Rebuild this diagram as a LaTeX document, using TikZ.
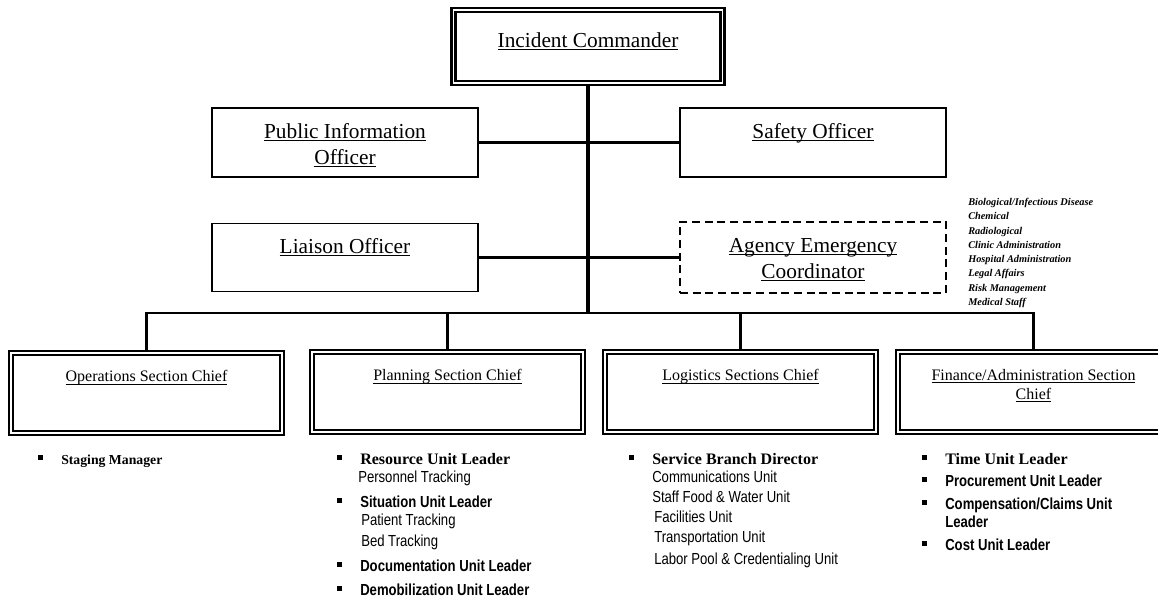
\documentclass[tikz,border=0pt]{standalone}
\usepackage{fontspec}
\setmainfont{Liberation Serif}
\newfontfamily\narrowsans{Liberation Sans}[FakeStretch=0.82]
\usetikzlibrary{positioning}

\newcommand\uln[1]{\setbox0\hbox{#1}\rlap{\rule[-2.2pt]{\wd0}{0.7pt}}\box0}
\newcommand\sqb{\llap{\rule[3.6pt]{3.8pt}{3.8pt}\hspace{13.5pt}}}

\tikzset{
  chiefbox/.style={draw, double, line width=1.6pt, double distance=1.4pt, inner sep=0pt, minimum width=203pt, minimum height=60pt},
  officerbox/.style={draw, line width=1.3pt, inner sep=0pt, minimum width=199.5pt, minimum height=52pt},
  coordbox/.style={officerbox, dash pattern=on 6pt off 3.5pt, minimum height=53pt},
  boxlabel/.style={inner sep=0pt, align=center, anchor=north, font=\fontsize{16}{19.5}\selectfont},
  chieflabel/.style={inner sep=0pt, align=center, anchor=north, font=\fontsize{12}{14}\selectfont},
  leader/.style={inner sep=0pt, anchor=base west, font=\fontsize{12}{14}\selectfont\bfseries},
  unit/.style={inner sep=0pt, anchor=base west, font=\fontsize{12}{14}\selectfont\narrowsans},
  unitlead/.style={unit, font=\fontsize{12}{14}\selectfont\narrowsans\bfseries},
  specialty/.style={inner sep=0pt, anchor=base west, font=\fontsize{7.75}{9}\selectfont\bfseries\itshape},
  trunk/.style={line width=2.5pt},
  branch/.style={line width=1.6pt}
}

\begin{document}
\begin{tikzpicture}[x=0.75pt,y=-0.75pt]
		\useasboundingbox (0,0) rectangle (1158,598);
		\clip (0,0) rectangle (1158,598);
		% command and staff
		\node[chiefbox, minimum width=201.8pt, minimum height=54.8pt] (ic) at (588,46.5) {};
		\node[boxlabel] (ictxt) at (588,32) {\uln{Incident Commander}};
		\node[officerbox] (pio) at (345,142.5) {};
		\node[boxlabel] (piotxt) at (345,123) {\uln{Public Information}\\\uln{Officer}};
		\node[officerbox] (safety) at (813,142.5) {};
		\node[boxlabel] (safetytxt) at (813,123) {\uln{Safety Officer}};
		\node[officerbox, minimum height=51pt] (liaison) at (345,257.5) {};
		\node[boxlabel] (liaisontxt) at (345,238) {\uln{Liaison Officer}};
		\node[coordbox] (agency) at (813,257.5) {};
		\node[boxlabel] (agencytxt) at (813,238) {\uln{Agency Emergency}\\\uln{Coordinator}};
		\coordinate (bus) at (588,313);
		% sections
		\node[chiefbox] (ops) at (146.5,393) {};
		\node[chieflabel] (opstxt) at (146.5,370) {\uln{Operations Section Chief}};
		\node[chiefbox] (plan) at (447.5,392) {};
		\node[chieflabel] (plantxt) at (447.5,369) {\uln{Planning Section Chief}};
		\node[chiefbox] (logi) at (740.5,392) {};
		\node[chieflabel] (logitxt) at (740.5,369) {\uln{Logistics Sections Chief}};
		\node[chiefbox] (fin) at (1033.5,392) {};
		\node[chieflabel] (fintxt) at (1033.5,369) {\uln{Finance/Administration Section}\\\uln{Chief}};
		% connectors
		\draw[trunk] (ic.south) -- (bus);
		\draw[branch] (pio.east) -- (safety.west);
		\draw[branch] (liaison.east) -- (agency.west);
		\draw[branch] (ops.north) |- (bus) -| (fin.north);
		\draw[branch] (plan.north) -- (plan.north |- bus);
		\draw[branch] (logi.north) -- (logi.north |- bus);
		% technical specialists
		\node[specialty] (spec1) at (968,205.5) {Biological/Infectious Disease};
		\node[specialty] (spec2) at (968,219.8) {Chemical};
		\node[specialty] (spec3) at (968,234.1) {Radiological};
		\node[specialty] (spec4) at (968,248.4) {Clinic Administration};
		\node[specialty] (spec5) at (968,262.7) {Hospital Administration};
		\node[specialty] (spec6) at (968,277) {Legal Affairs};
		\node[specialty] (spec7) at (968,291.3) {Risk Management};
		\node[specialty] (spec8) at (968,305.6) {Medical Staff};
		% operations units
		\node[leader, font=\fontsize{10.3}{12}\selectfont\bfseries] (ops1) at (61,465) {\sqb Staging Manager};
		% planning units
		\node[leader] (plan1) at (360,465) {\sqb Resource Unit Leader};
		\node[unit] (plan1a) at (358,483) {Personnel Tracking};
		\node[unitlead] (plan2) at (360,508) {\sqb Situation Unit Leader};
		\node[unit] (plan2a) at (361,526) {Patient Tracking};
		\node[unit] (plan2b) at (361,547) {Bed Tracking};
		\node[unitlead] (plan3) at (360,572) {\sqb Documentation Unit Leader};
		\node[unitlead] (plan4) at (360,596) {\sqb Demobilization Unit Leader};
		% logistics units
		\node[leader] (logi1) at (652,465) {\sqb Service Branch Director};
		\node[unit] (logi1a) at (652,483) {Communications Unit};
		\node[unit] (logi1b) at (652,503) {Staff Food \& Water Unit};
		\node[unit] (logi1c) at (654,523) {Facilities Unit};
		\node[unit] (logi1d) at (654,543) {Transportation Unit};
		\node[unit] (logi1e) at (654,565) {Labor Pool \& Credentialing Unit};
		% finance units
		\node[leader] (fin1) at (945,465) {\sqb Time Unit Leader};
		\node[unitlead] (fin2) at (945,487) {\sqb Procurement Unit Leader};
		\node[unitlead] (fin3) at (945,510) {\sqb Compensation/Claims Unit};
		\node[unitlead] (fin3a) at (945,528) {Leader};
		\node[unitlead] (fin4) at (945,551) {\sqb Cost Unit Leader};
\end{tikzpicture}
\end{document}
